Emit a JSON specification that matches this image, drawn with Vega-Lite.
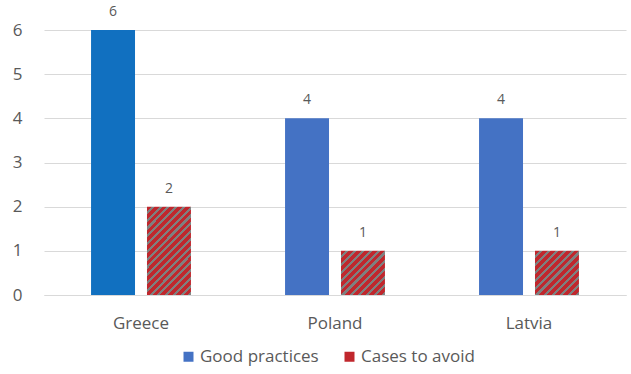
{
  "$schema": "https://vega.github.io/schema/vega-lite/v6.json",
  "autosize": "none",
  "width": 582,
  "height": 265,
  "padding": {"left": 44, "top": 30, "right": 5, "bottom": 79},
  "config": {"view": {"stroke": null}, "font": "Open Sans"},
  "data": {
    "values": [
      {"country": "Greece", "series": "Good practices", "value": 6},
      {"country": "Greece", "series": "Cases to avoid", "value": 2},
      {"country": "Poland", "series": "Good practices", "value": 4},
      {"country": "Poland", "series": "Cases to avoid", "value": 1},
      {"country": "Latvia", "series": "Good practices", "value": 4},
      {"country": "Latvia", "series": "Cases to avoid", "value": 1}
    ]
  },
  "encoding": {
    "x": {
      "field": "country",
      "type": "nominal",
      "sort": ["Greece", "Poland", "Latvia"],
      "scale": {"paddingInner": 0.485, "paddingOuter": 0.2425},
      "axis": {
        "title": null,
        "labelAngle": 0,
        "ticks": false,
        "domain": true,
        "domainColor": "#D9D9D9",
        "labelPadding": 20,
        "labelFontSize": 17,
        "labelColor": "#595959",
        "grid": false
      }
    },
    "xOffset": {
      "field": "series",
      "type": "nominal",
      "sort": ["Good practices", "Cases to avoid"],
      "scale": {"paddingInner": 0.214}
    },
    "y": {
      "field": "value",
      "type": "quantitative",
      "scale": {"domain": [0, 6]},
      "axis": {
        "title": null,
        "values": [0, 1, 2, 3, 4, 5, 6],
        "ticks": false,
        "domain": false,
        "gridColor": "#D9D9D9",
        "labelPadding": 22,
        "labelFontSize": 17,
        "labelColor": "#595959"
      }
    }
  },
  "layer": [
    {
      "mark": {"type": "bar"},
      "encoding": {
        "color": {
          "condition": [
            {"test": "datum.country === 'Greece' && datum.series === 'Good practices'", "value": "#1170C0"},
            {"test": "datum.series === 'Cases to avoid' && datum.value === 2", "value": {
              "gradient": "linear", "x1": 0, "y1": 0, "x2": 0.6, "y2": 1.2,
              "stops": [
                {"offset": 0, "color": "#C0272D"}, {"offset": 0.0353, "color": "#C0272D"}, {"offset": 0.0353, "color": "#7F7F7F"}, {"offset": 0.0588, "color": "#7F7F7F"},
                {"offset": 0.0588, "color": "#C0272D"}, {"offset": 0.0941, "color": "#C0272D"}, {"offset": 0.0941, "color": "#7F7F7F"}, {"offset": 0.1176, "color": "#7F7F7F"},
                {"offset": 0.1176, "color": "#C0272D"}, {"offset": 0.1529, "color": "#C0272D"}, {"offset": 0.1529, "color": "#7F7F7F"}, {"offset": 0.1765, "color": "#7F7F7F"},
                {"offset": 0.1765, "color": "#C0272D"}, {"offset": 0.2118, "color": "#C0272D"}, {"offset": 0.2118, "color": "#7F7F7F"}, {"offset": 0.2353, "color": "#7F7F7F"},
                {"offset": 0.2353, "color": "#C0272D"}, {"offset": 0.2706, "color": "#C0272D"}, {"offset": 0.2706, "color": "#7F7F7F"}, {"offset": 0.2941, "color": "#7F7F7F"},
                {"offset": 0.2941, "color": "#C0272D"}, {"offset": 0.3294, "color": "#C0272D"}, {"offset": 0.3294, "color": "#7F7F7F"}, {"offset": 0.3529, "color": "#7F7F7F"},
                {"offset": 0.3529, "color": "#C0272D"}, {"offset": 0.3882, "color": "#C0272D"}, {"offset": 0.3882, "color": "#7F7F7F"}, {"offset": 0.4118, "color": "#7F7F7F"},
                {"offset": 0.4118, "color": "#C0272D"}, {"offset": 0.4471, "color": "#C0272D"}, {"offset": 0.4471, "color": "#7F7F7F"}, {"offset": 0.4706, "color": "#7F7F7F"},
                {"offset": 0.4706, "color": "#C0272D"}, {"offset": 0.5059, "color": "#C0272D"}, {"offset": 0.5059, "color": "#7F7F7F"}, {"offset": 0.5294, "color": "#7F7F7F"},
                {"offset": 0.5294, "color": "#C0272D"}, {"offset": 0.5647, "color": "#C0272D"}, {"offset": 0.5647, "color": "#7F7F7F"}, {"offset": 0.5882, "color": "#7F7F7F"},
                {"offset": 0.5882, "color": "#C0272D"}, {"offset": 0.6235, "color": "#C0272D"}, {"offset": 0.6235, "color": "#7F7F7F"}, {"offset": 0.6471, "color": "#7F7F7F"},
                {"offset": 0.6471, "color": "#C0272D"}, {"offset": 0.6824, "color": "#C0272D"}, {"offset": 0.6824, "color": "#7F7F7F"}, {"offset": 0.7059, "color": "#7F7F7F"},
                {"offset": 0.7059, "color": "#C0272D"}, {"offset": 0.7412, "color": "#C0272D"}, {"offset": 0.7412, "color": "#7F7F7F"}, {"offset": 0.7647, "color": "#7F7F7F"},
                {"offset": 0.7647, "color": "#C0272D"}, {"offset": 0.8, "color": "#C0272D"}, {"offset": 0.8, "color": "#7F7F7F"}, {"offset": 0.8235, "color": "#7F7F7F"},
                {"offset": 0.8235, "color": "#C0272D"}, {"offset": 0.8588, "color": "#C0272D"}, {"offset": 0.8588, "color": "#7F7F7F"}, {"offset": 0.8824, "color": "#7F7F7F"},
                {"offset": 0.8824, "color": "#C0272D"}, {"offset": 0.9176, "color": "#C0272D"}, {"offset": 0.9176, "color": "#7F7F7F"}, {"offset": 0.9412, "color": "#7F7F7F"},
                {"offset": 0.9412, "color": "#C0272D"}, {"offset": 0.9765, "color": "#C0272D"}, {"offset": 0.9765, "color": "#7F7F7F"}, {"offset": 1, "color": "#7F7F7F"}
              ]
            }},
            {"test": "datum.series === 'Cases to avoid' && datum.value === 1", "value": {
              "gradient": "linear", "x1": 0, "y1": 0, "x2": 1, "y2": 1,
              "stops": [
                {"offset": 0, "color": "#C0272D"}, {"offset": 0.0545, "color": "#C0272D"}, {"offset": 0.0545, "color": "#7F7F7F"}, {"offset": 0.0909, "color": "#7F7F7F"},
                {"offset": 0.0909, "color": "#C0272D"}, {"offset": 0.1455, "color": "#C0272D"}, {"offset": 0.1455, "color": "#7F7F7F"}, {"offset": 0.1818, "color": "#7F7F7F"},
                {"offset": 0.1818, "color": "#C0272D"}, {"offset": 0.2364, "color": "#C0272D"}, {"offset": 0.2364, "color": "#7F7F7F"}, {"offset": 0.2727, "color": "#7F7F7F"},
                {"offset": 0.2727, "color": "#C0272D"}, {"offset": 0.3273, "color": "#C0272D"}, {"offset": 0.3273, "color": "#7F7F7F"}, {"offset": 0.3636, "color": "#7F7F7F"},
                {"offset": 0.3636, "color": "#C0272D"}, {"offset": 0.4182, "color": "#C0272D"}, {"offset": 0.4182, "color": "#7F7F7F"}, {"offset": 0.4545, "color": "#7F7F7F"},
                {"offset": 0.4545, "color": "#C0272D"}, {"offset": 0.5, "color": "#C0272D"}, {"offset": 0.5, "color": "#7F7F7F"}, {"offset": 0.5455, "color": "#7F7F7F"},
                {"offset": 0.5455, "color": "#C0272D"}, {"offset": 0.6, "color": "#C0272D"}, {"offset": 0.6, "color": "#7F7F7F"}, {"offset": 0.6364, "color": "#7F7F7F"},
                {"offset": 0.6364, "color": "#C0272D"}, {"offset": 0.6909, "color": "#C0272D"}, {"offset": 0.6909, "color": "#7F7F7F"}, {"offset": 0.7273, "color": "#7F7F7F"},
                {"offset": 0.7273, "color": "#C0272D"}, {"offset": 0.7818, "color": "#C0272D"}, {"offset": 0.7818, "color": "#7F7F7F"}, {"offset": 0.8182, "color": "#7F7F7F"},
                {"offset": 0.8182, "color": "#C0272D"}, {"offset": 0.8727, "color": "#C0272D"}, {"offset": 0.8727, "color": "#7F7F7F"}, {"offset": 0.9091, "color": "#7F7F7F"},
                {"offset": 0.9091, "color": "#C0272D"}, {"offset": 0.9636, "color": "#C0272D"}, {"offset": 0.9636, "color": "#7F7F7F"}, {"offset": 1, "color": "#7F7F7F"}
              ]
            }}
          ],
          "field": "series",
          "type": "nominal",
          "scale": {
            "domain": ["Good practices", "Cases to avoid"],
            "range": ["#4472C4", "#C0272D"]
          },
          "legend": {
            "title": null,
            "orient": "none",
            "direction": "horizontal",
            "legendX": 136,
            "legendY": 318,
            "symbolType": "square",
            "symbolSize": 100,
            "symbolStrokeWidth": 0,
            "labelFontSize": 17,
            "labelColor": "#595959",
            "labelOffset": 3,
            "columnPadding": 22,
            "encode": {
              "symbols": {
                "update": {
                  "fill": {"signal": "datum.value === 'Cases to avoid' ? {gradient: 'linear', x1: 0, y1: 0, x2: 1, y2: 1, stops: [{offset: 0, color: '#C0272D'}, {offset: 0.2, color: '#C0272D'}, {offset: 0.2, color: '#7F7F7F'}, {offset: 0.333, color: '#7F7F7F'}, {offset: 0.333, color: '#C0272D'}, {offset: 0.533, color: '#C0272D'}, {offset: 0.533, color: '#7F7F7F'}, {offset: 0.667, color: '#7F7F7F'}, {offset: 0.667, color: '#C0272D'}, {offset: 0.867, color: '#C0272D'}, {offset: 0.867, color: '#7F7F7F'}, {offset: 1, color: '#7F7F7F'}]} : '#4472C4'"}
                }
              }
            }
          }
        }
      }
    },
    {
      "mark": {"type": "text", "dy": -18, "fontSize": 14, "color": "#595959"},
      "encoding": {"text": {"field": "value", "type": "quantitative"}}
    }
  ]
}
